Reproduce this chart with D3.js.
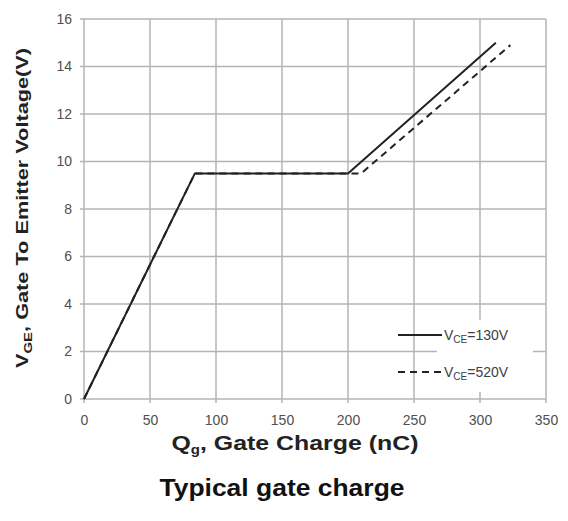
<!DOCTYPE html>
<html>
<head>
<meta charset="utf-8">
<script src="https://cdn.jsdelivr.net/npm/d3@7"></script>
<style>
    body { margin: 0; background: #fff; }
    svg { display: block; }
</style>
</head>
<body>
<script>
// chart data
const xTicks = [0, 50, 100, 150, 200, 250, 300, 350];
const yTicks = [0, 2, 4, 6, 8, 10, 12, 14, 16];

const qgSolid = [0, 84, 200, 312];
const vgeSolid = [0, 9.5, 9.5, 15];
const qgDashed = [0, 84, 210, 323];
const vgeDashed = [0, 9.5, 9.5, 14.9];

const seriesNames = ['130V', '520V'];

const width = 568;
const height = 521;
const marginTop = 19;
const marginRight = 22;
const marginBottom = 122;
const marginLeft = 84;

const gridColor = '#b4b4b4';
const tickFont = '"Liberation Sans Narrow", "Liberation Sans", Arial, sans-serif';
const boldFont = '"Liberation Sans", Arial, sans-serif';

const svg = d3.select('body')
    .append('svg')
    .attr('width', width)
    .attr('height', height);

const x = d3.scaleLinear().domain([0, 350]).range([marginLeft, width - marginRight]);
const y = d3.scaleLinear().domain([0, 16]).range([height - marginBottom, marginTop]);

// vertical grid lines
svg.selectAll('line.vgrid')
    .data(xTicks)
    .enter()
    .append('line')
    .attr('class', 'vgrid')
    .attr('x1', d => x(d))
    .attr('x2', d => x(d))
    .attr('y1', y(16))
    .attr('y2', y(0) + 4)
    .attr('stroke', gridColor)
    .attr('stroke-width', 1.5);

// horizontal grid lines
svg.selectAll('line.hgrid')
    .data(yTicks)
    .enter()
    .append('line')
    .attr('class', 'hgrid')
    .attr('x1', x(0) - 4)
    .attr('x2', x(350))
    .attr('y1', d => y(d))
    .attr('y2', d => y(d))
    .attr('stroke', gridColor)
    .attr('stroke-width', 1.5);

// x axis labels
const xAxis = d3.axisBottom(x).tickValues(xTicks).tickSize(0).tickPadding(16);
svg.append('g')
    .attr('transform', `translate(0,${y(0)})`)
    .call(xAxis)
    .call(g => g.select('.domain').remove())
    .selectAll('text')
    .attr('font-family', tickFont)
    .attr('font-size', 14)
    .attr('fill', '#505050');

// y axis labels
const yAxis = d3.axisLeft(y).tickValues(yTicks).tickSize(0).tickPadding(12);
svg.append('g')
    .attr('transform', `translate(${x(0)},0)`)
    .call(yAxis)
    .call(g => g.select('.domain').remove())
    .selectAll('text')
    .attr('font-family', tickFont)
    .attr('font-size', 14)
    .attr('fill', '#505050');

// legend background
svg.append('rect')
    .attr('x', 437)
    .attr('y', 320)
    .attr('width', 96)
    .attr('height', 72)
    .attr('fill', '#fff');

// curves
const lineGen = d3.line()
    .x(d => x(d[0]))
    .y(d => y(d[1]));

svg.append('path')
    .datum(d3.zip(qgSolid, vgeSolid))
    .attr('d', lineGen)
    .attr('fill', 'none')
    .attr('stroke', '#222')
    .attr('stroke-width', 2);

svg.append('path')
    .datum(d3.zip(qgDashed, vgeDashed))
    .attr('d', lineGen)
    .attr('fill', 'none')
    .attr('stroke', '#222')
    .attr('stroke-width', 2)
    .attr('stroke-dasharray', '7,5');

// legend
const legend = svg.append('g');
seriesNames.forEach((name, i) =>
{
    const ly = 335 + i * 37;
    legend.append('line')
        .attr('x1', 398)
        .attr('x2', 442)
        .attr('y1', ly)
        .attr('y2', ly)
        .attr('stroke', '#222')
        .attr('stroke-width', 2)
        .attr('stroke-dasharray', i === 0 ? null : '7,5');

    const t = legend.append('text')
        .attr('x', 444)
        .attr('y', ly + 5)
        .attr('font-family', tickFont)
        .attr('font-size', 14)
        .attr('fill', '#404040');
    t.append('tspan').text('V');
    t.append('tspan').attr('font-size', 10).attr('dy', 3).text('CE');
    t.append('tspan').attr('dy', -3).text('=' + name);
});

// x axis title
const xTitle = svg.append('text')
    .attr('x', 295)
    .attr('y', 450)
    .attr('text-anchor', 'middle')
    .attr('font-family', boldFont)
    .attr('font-weight', 'bold')
    .attr('font-size', 20)
    .attr('fill', '#222')
    .attr('textLength', 247)
    .attr('lengthAdjust', 'spacingAndGlyphs');
xTitle.append('tspan').text('Q');
xTitle.append('tspan').attr('font-size', 12).attr('dy', 4).text('g');
xTitle.append('tspan').attr('dy', -4).text(', Gate Charge (nC)');

// y axis title
const yTitle = svg.append('text')
    .attr('transform', 'translate(28,208) rotate(-90)')
    .attr('text-anchor', 'middle')
    .attr('font-family', boldFont)
    .attr('font-weight', 'bold')
    .attr('font-size', 16)
    .attr('fill', '#222')
    .attr('textLength', 320)
    .attr('lengthAdjust', 'spacingAndGlyphs');
yTitle.append('tspan').text('V');
yTitle.append('tspan').attr('font-size', 11).attr('dy', 4).text('GE');
yTitle.append('tspan').attr('dy', -4).text(', Gate To Emitter Voltage(V)');

// chart title
svg.append('text')
    .attr('x', 282)
    .attr('y', 496)
    .attr('text-anchor', 'middle')
    .attr('font-family', boldFont)
    .attr('font-weight', 'bold')
    .attr('font-size', 23)
    .attr('fill', '#111')
    .attr('textLength', 245)
    .attr('lengthAdjust', 'spacingAndGlyphs')
    .text('Typical gate charge');
</script>
</body>
</html>
